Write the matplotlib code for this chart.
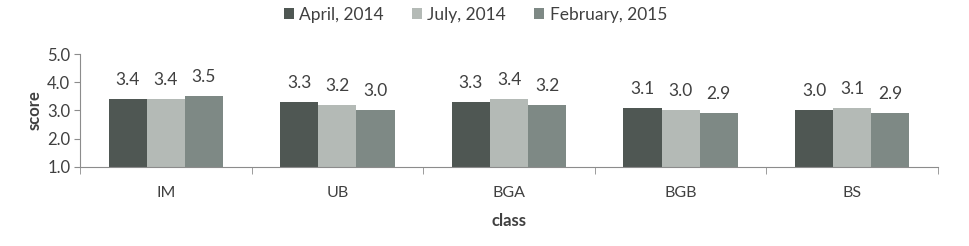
import numpy as np
import matplotlib.pyplot as plt

plt.rcParams['font.family'] = ['Lato', 'DejaVu Sans']

classes = ['IM', 'UB', 'BGA', 'BGB', 'BS']
series_names = ['April, 2014', 'July, 2014', 'February, 2015']
april_2014 = [3.4, 3.3, 3.3, 3.1, 3.0]
july_2014 = [3.4, 3.2, 3.4, 3.0, 3.1]
feb_2015 = [3.5, 3.0, 3.2, 2.9, 2.9]
colors = ['#4f5753', '#b4bab6', '#7e8985']

text_col = '#404040'
axis_col = '#8c8c8c'

fig = plt.figure(figsize=(9.7, 2.46), dpi=100)
ax = fig.add_axes([0.0825, 0.322, 0.8845, 0.458])

x = np.arange(len(classes))
w = 0.222
for i, (vals, name) in enumerate(zip([april_2014, july_2014, feb_2015], series_names)):
    pos = x + (i - 1) * w
    ax.bar(pos, np.array(vals) - 1.0, w, bottom=1.0, color=colors[i],
           label=name, zorder=2)
    for xp, v in zip(pos, vals):
        ax.annotate(f'{v:.1f}', (xp, v), xytext=(0, 8), textcoords='offset points',
                    ha='center', va='bottom', fontsize=12.5, color=text_col)

ax.set_xlim(-0.5, len(classes) - 0.5)
ax.set_ylim(1.0, 5.0)
ax.set_yticks([1, 2, 3, 4, 5])
ax.set_yticklabels([f'{t:.1f}' for t in [1, 2, 3, 4, 5]], fontsize=12, color=text_col)
ax.set_xticks(x)
ax.set_xticklabels(classes, fontsize=11.5, color=text_col)
ax.set_xticks(np.arange(len(classes) + 1) - 0.5, minor=True)
ax.tick_params(axis='x', which='major', length=0, pad=14)
ax.tick_params(axis='x', which='minor', length=5, color=axis_col, direction='out')
ax.tick_params(axis='y', length=4, color=axis_col, pad=3)

for s in ['top', 'right']:
    ax.spines[s].set_visible(False)
ax.spines['left'].set_color(axis_col)
ax.spines['bottom'].set_color(axis_col)

ax.set_ylabel('score', fontsize=12, fontweight='bold', color=text_col, labelpad=3)
ax.set_xlabel('class', fontsize=12, fontweight='bold', color=text_col, labelpad=9)

fig.legend(loc='center', bbox_to_anchor=(0.49, 0.94), ncol=3, frameon=False,
           fontsize=12.5, handlelength=0.6, handleheight=0.6, handletextpad=0.3,
           columnspacing=1.6, labelcolor=text_col)

fig.savefig('out.png', dpi=100)
